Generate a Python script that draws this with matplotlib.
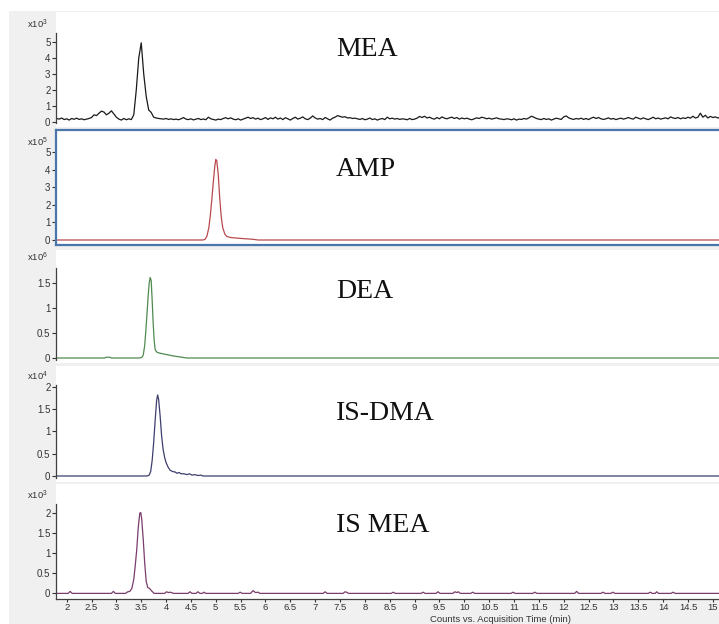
import numpy as np
import matplotlib
matplotlib.use("Agg")
from matplotlib import pyplot as plt
from matplotlib.patches import Rectangle
from matplotlib.ticker import FormatStrFormatter

plt.rcParams['mathtext.default'] = 'regular'

W, H = 719, 624

# ---- data (counts) ----
# MEA, sampled every 0.05 min from 1.80 min, x10^3 counts
mea_start, mea_step = 1.80, 0.05
mea_y = [
    0.22, 0.18, 0.25, 0.15, 0.20, 0.12, 0.22, 0.17, 0.24, 0.16,
    0.20, 0.14, 0.18, 0.22, 0.28, 0.45, 0.40, 0.55, 0.68, 0.62,
    0.45, 0.55, 0.70, 0.50, 0.30, 0.18, 0.12, 0.22, 0.14, 0.20,
    0.15, 0.45, 2.00, 4.00, 4.95, 3.00, 1.60, 0.75, 0.60, 0.30,
    0.25, 0.22, 0.20, 0.18, 0.22, 0.16, 0.20, 0.15, 0.18, 0.14,
    0.20, 0.28, 0.18, 0.15, 0.20, 0.13, 0.18, 0.22, 0.15, 0.19,
    0.14, 0.30, 0.20, 0.16, 0.12, 0.18, 0.15, 0.22, 0.27, 0.20,
    0.26, 0.18, 0.14, 0.20, 0.12, 0.18, 0.24, 0.30, 0.22, 0.27,
    0.18, 0.24, 0.15, 0.20, 0.28, 0.16, 0.26, 0.20, 0.30, 0.18,
    0.25, 0.15, 0.27, 0.20, 0.12, 0.22, 0.30, 0.18, 0.24, 0.32,
    0.20, 0.15, 0.24, 0.38, 0.25, 0.18, 0.22, 0.15, 0.28, 0.20,
    0.12, 0.24, 0.30, 0.40, 0.35, 0.30, 0.33, 0.25, 0.27, 0.22,
    0.24, 0.20, 0.16, 0.22, 0.14, 0.18, 0.25, 0.15, 0.20, 0.12,
    0.18, 0.22, 0.15, 0.30, 0.20, 0.24, 0.18, 0.22, 0.16, 0.20,
    0.18, 0.14, 0.22, 0.15, 0.18, 0.24, 0.35, 0.28, 0.36, 0.25,
    0.30, 0.22, 0.18, 0.28, 0.20, 0.32, 0.24, 0.20, 0.26, 0.30,
    0.22, 0.28, 0.18, 0.25, 0.20, 0.24, 0.18, 0.14, 0.20, 0.26,
    0.22, 0.30, 0.26, 0.20, 0.24, 0.18, 0.22, 0.26, 0.20, 0.18,
    0.15, 0.20, 0.18, 0.14, 0.20, 0.12, 0.18, 0.16, 0.22, 0.18,
    0.26, 0.36, 0.30, 0.22, 0.18, 0.15, 0.22, 0.16, 0.20, 0.12,
    0.18, 0.24, 0.20, 0.16, 0.32, 0.38, 0.26, 0.20, 0.16, 0.22,
    0.18, 0.24, 0.16, 0.22, 0.15, 0.24, 0.30, 0.22, 0.28, 0.20,
    0.16, 0.20, 0.26, 0.18, 0.22, 0.15, 0.20, 0.24, 0.18, 0.22,
    0.28, 0.22, 0.18, 0.30, 0.24, 0.18, 0.26, 0.20, 0.15, 0.22,
    0.30, 0.20, 0.25, 0.18, 0.22, 0.26, 0.20, 0.32, 0.25, 0.22,
    0.28, 0.20, 0.26, 0.22, 0.30, 0.24, 0.36, 0.25, 0.30, 0.55,
    0.30, 0.42, 0.25, 0.35, 0.28, 0.32, 0.25, 0.30,
]
mea_t = mea_start + mea_step * np.arange(len(mea_y))

# AMP, x10^5 counts
amp_t = [1.78, 4.74, 4.78, 4.82, 4.86, 4.89, 4.92, 4.95, 4.98, 5.00, 5.02,
         5.05, 5.08, 5.11, 5.14, 5.18, 5.22, 5.30, 5.45, 5.60, 5.75, 5.85, 15.3]
amp_y = [0.0, 0.0, 0.03, 0.2, 0.7, 1.4, 2.3, 3.3, 4.2, 4.58, 4.5,
         3.7, 2.35, 1.3, 0.7, 0.35, 0.2, 0.14, 0.1, 0.07, 0.04, 0.0, 0.0]

# DEA, x10^6 counts
dea_t = [1.78, 2.76, 2.80, 2.86, 2.90, 3.45, 3.51, 3.54, 3.57, 3.60, 3.62,
         3.64, 3.66, 3.68, 3.70, 3.72, 3.74, 3.76, 3.78, 3.81, 3.86, 3.95,
         4.05, 4.15, 4.25, 4.35, 4.42, 15.3]
dea_y = [0.0, 0.0, 0.015, 0.015, 0.0, 0.0, 0.01, 0.06, 0.25, 0.65, 0.95,
         1.25, 1.5, 1.61, 1.55, 1.15, 0.7, 0.35, 0.17, 0.12, 0.1, 0.08,
         0.06, 0.04, 0.025, 0.01, 0.0, 0.0]

# IS-DMA, x10^4 counts
dma_t = [1.78, 3.62, 3.66, 3.69, 3.72, 3.75, 3.78, 3.81, 3.83, 3.85, 3.88,
         3.91, 3.94, 3.97, 4.00, 4.04, 4.08, 4.13, 4.18, 4.22, 4.26, 4.30,
         4.36, 4.42, 4.47, 4.52, 4.58, 4.64, 4.70, 4.74, 15.3]
dma_y = [0.0, 0.0, 0.02, 0.1, 0.35, 0.75, 1.25, 1.7, 1.82, 1.72, 1.35,
         0.9, 0.6, 0.42, 0.3, 0.2, 0.13, 0.1, 0.09, 0.06, 0.08, 0.05,
         0.05, 0.03, 0.05, 0.02, 0.03, 0.01, 0.02, 0.0, 0.0]

# IS MEA, x10^3 counts
ismea_t = [1.78, 2.03, 2.07, 2.11, 2.90, 2.94, 2.98, 3.18, 3.23, 3.27,
           3.31, 3.35, 3.38, 3.41, 3.44, 3.47, 3.49, 3.51, 3.54, 3.57,
           3.60, 3.63, 3.67, 3.71, 3.76, 3.97, 4.01, 4.05, 4.08, 4.11,
           4.15, 4.44, 4.48, 4.52, 4.60, 4.64, 4.68, 4.73, 4.76, 4.80,
           5.45, 5.49, 5.53, 5.70, 5.75, 5.80, 5.85, 5.89, 7.16, 7.20,
           7.24, 7.56, 7.60, 7.63, 7.67, 8.53, 8.57, 8.61, 9.13, 9.17,
           9.21, 9.43, 9.47, 9.51, 9.77, 9.81, 9.85, 9.88, 9.92, 10.13,
           10.17, 10.21, 10.94, 10.98, 11.02, 11.38, 11.42, 11.46, 12.22, 12.26,
           12.30, 12.75, 12.79, 12.83, 12.95, 12.99, 13.03, 13.70, 13.74, 13.78,
           13.84, 13.87, 13.91, 14.16, 14.20, 14.24, 15.3]
ismea_y = [0.0, 0.0, 0.05, 0.0, 0.0, 0.05, 0.0, 0.0, 0.04, 0.05,
           0.12, 0.35, 0.7, 1.1, 1.65, 2.0, 2.02, 1.85, 1.35, 0.75,
           0.3, 0.15, 0.12, 0.06, 0.0, 0.0, 0.04, 0.02, 0.03, 0.02,
           0.0, 0.0, 0.04, 0.0, 0.0, 0.04, 0.0, 0.0, 0.03, 0.0,
           0.0, 0.03, 0.0, 0.0, 0.07, 0.02, 0.03, 0.0, 0.0, 0.04,
           0.0, 0.0, 0.04, 0.03, 0.0, 0.0, 0.03, 0.0, 0.0, 0.03,
           0.0, 0.0, 0.04, 0.0, 0.0, 0.04, 0.02, 0.04, 0.0, 0.0,
           0.03, 0.0, 0.0, 0.03, 0.0, 0.0, 0.03, 0.0, 0.0, 0.05,
           0.0, 0.0, 0.03, 0.0, 0.0, 0.03, 0.0, 0.0, 0.03, 0.0,
           0.0, 0.04, 0.0, 0.0, 0.03, 0.0, 0.0]

names = ['MEA', 'AMP', 'DEA', 'IS-DMA', 'IS MEA']
exponents = [3, 5, 6, 4, 3]
x_ticks = np.arange(2, 15.5, 0.5)

# ---- layout (pixel based) ----
panels = [
    dict(t=mea_t, y=mea_y, top=12, bot=127, ylim=(-0.3125, 6.875), step=1, ymax=5,
         spine=(-0.06, 5.56), color='#1a1a1a', ly=50, ey=24),
    dict(t=amp_t, y=amp_y, top=130, bot=245, ylim=(-0.284, 6.25), step=1, ymax=5,
         spine=None, color='#b84a4e', ly=170, ey=142),
    dict(t=dea_t, y=dea_y, top=250, bot=363, ylim=(-0.1, 2.16), step=0.5, ymax=1.5,
         spine=(-0.04, 1.8), color='#4f8a4f', ly=292, ey=257),
    dict(t=dma_t, y=dma_y, top=366, bot=482, ylim=(-0.135, 2.47), step=0.5, ymax=2,
         spine=(-0.04, 2.05), color='#3e3e6e', ly=413, ey=376),
    dict(t=ismea_t, y=ismea_y, top=484, bot=599, ylim=(-0.14, 2.73), step=0.5, ymax=2,
         spine=(-0.14, 2.23), color='#7a3c6c', ly=525, ey=495),
]

x_left_px, x_right_px = 56, 725
xlim = (1.785, 15.245)

fig = plt.figure(figsize=(W / 100, H / 100), dpi=100, facecolor='white')
fig.patches.append(Rectangle((9 / W, 0), 1, 1 - 11 / H, transform=fig.transFigure,
                             facecolor='#f0f0f0', edgecolor='none', zorder=-10))

sans = ['Liberation Sans', 'DejaVu Sans']

for i, p in enumerate(panels):
    ax = fig.add_axes([x_left_px / W, 1 - p['bot'] / H,
                       (x_right_px - x_left_px) / W, (p['bot'] - p['top']) / H])
    ax.set_facecolor('white')
    ax.plot(p['t'], p['y'], color=p['color'], lw=0.9)
    ax.set_xlim(*xlim)
    ax.set_ylim(*p['ylim'])
    ax.set_yticks(np.arange(0, p['ymax'] + 0.01, p['step']))
    ax.yaxis.set_major_formatter(FormatStrFormatter('%g'))
    ax.tick_params(axis='y', direction='out', length=3, width=0.8, pad=1,
                   colors='#333333', labelsize=7)
    for lab in ax.get_yticklabels():
        lab.set_family(sans)

    if i == 1:
        for s in ax.spines.values():
            s.set_color('#4a76ab')
            s.set_linewidth(1.6)
    else:
        for s in ['top', 'right', 'bottom']:
            ax.spines[s].set_visible(False)
        ax.spines['left'].set_bounds(*p['spine'])
        ax.spines['left'].set_color('#404040')
        ax.spines['left'].set_linewidth(0.9)

    if i == 4:
        ax.spines['bottom'].set_visible(True)
        ax.spines['bottom'].set_color('#404040')
        ax.spines['bottom'].set_linewidth(0.9)
        ax.set_xticks(x_ticks)
        ax.xaxis.set_major_formatter(FormatStrFormatter('%g'))
        ax.tick_params(axis='x', direction='out', length=2.5, width=0.8, pad=0.5,
                       colors='#333333', labelsize=6.8)
        for lab in ax.get_xticklabels():
            lab.set_family(sans)
    else:
        ax.tick_params(axis='x', bottom=False, labelbottom=False)

    # compound name
    fig.text(336 / W, 1 - p['ly'] / H, names[i], ha='left', va='center',
             family=['Liberation Serif', 'DejaVu Serif'], size=20, color='#111111')
    # scale factor
    fig.text(27 / W, 1 - p['ey'] / H, 'x10$^{%d}$' % exponents[i], ha='left',
             va='center', family=sans, size=6.8, color='#333333')

fig.text(500 / W, 1 - 619.5 / H, 'Counts vs. Acquisition Time (min)', ha='center',
         va='center', family=sans, size=6.8, color='#333333')

fig.savefig('out.png', dpi=100, facecolor='white')
